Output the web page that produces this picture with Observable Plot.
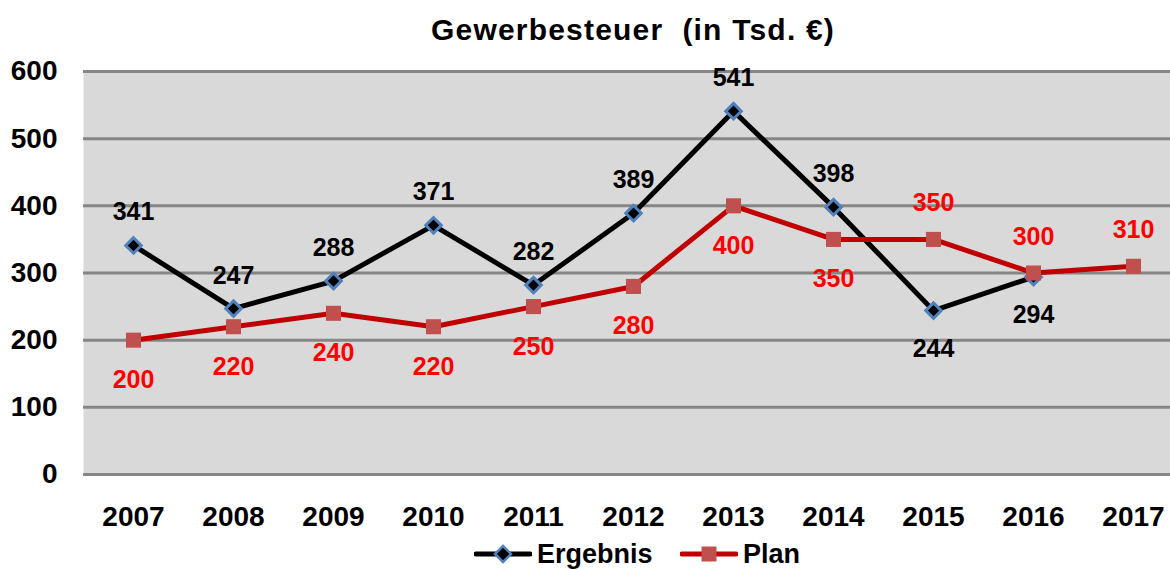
<!DOCTYPE html>
<html>
<head>
<meta charset="utf-8">
<script src="https://cdn.jsdelivr.net/npm/d3@7"></script>
<script src="https://cdn.jsdelivr.net/npm/@observablehq/plot@0.6"></script>
<style>
  html, body { margin: 0; padding: 0; background: #fff; }
  body { width: 1170px; height: 570px; overflow: hidden; font-family: "Liberation Sans", Arial, sans-serif; font-weight: bold; }
  #title { height: 58px; position: relative; }
  #title span { position: absolute; left: 633px; top: 13px; transform: translateX(-50%); font-size: 30px; letter-spacing: 1.2px; white-space: pre; color: #000; }
  #legend { height: 32px; position: relative; }
  .item { position: absolute; top: 0; height: 32px; display: flex; align-items: center; font-size: 27px; }
  .item svg { margin-right: 5px; }
</style>
</head>
<body>
<div id="title"><span>Gewerbesteuer  (in Tsd. €)</span></div>
<div id="chart"></div>
<div id="legend"></div>
<script>
const years = ["2007","2008","2009","2010","2011","2012","2013","2014","2015","2016","2017"];
const ergebnis = [341, 247, 288, 371, 282, 389, 541, 398, 244, 294, null];
const plan = [200, 220, 240, 220, 250, 280, 400, 350, 350, 300, 310];
const yTicks = [0, 100, 200, 300, 400, 500, 600];
const ergebnisLabelBelow = ["2015", "2016"];
const planLabelAbove = ["2015", "2016", "2017"];

const ergData = years.map((y, i) => ({year: y, value: ergebnis[i]})).filter(d => d.value != null);
const planData = years.map((y, i) => ({year: y, value: plan[i]}));

const fontFamily = '"Liberation Sans", Arial, sans-serif';
const chart = Plot.plot({
  width: 1170,
  height: 480,
  marginLeft: 83,
  marginRight: 0,
  marginTop: 13,
  marginBottom: 64,
  style: {fontFamily, fontWeight: "bold", background: "transparent", overflow: "visible"},
  x: {type: "point", domain: years, range: [133, 1133], padding: 0},
  y: {domain: [0, 600]},
  marks: [
    Plot.frame({fill: "#d9d9d9", stroke: null}),
    Plot.ruleY(yTicks, {stroke: "#868686", strokeWidth: 3}),
    Plot.axisY({ticks: yTicks, tickSize: 0, tickPadding: 26, fontSize: 28, label: null, fill: "#000"}),
    Plot.axisX({tickSize: 0, tickPadding: 32, fontSize: 28, label: null, fill: "#000"}),
    Plot.line(ergData, {x: "year", y: "value", stroke: "#000", strokeWidth: 5}),
    Plot.dot(ergData, {x: "year", y: "value", symbol: "diamond2", r: 7, fill: "#000", stroke: "#4f81bd", strokeWidth: 3}),
    Plot.line(planData, {x: "year", y: "value", stroke: "#c00000", strokeWidth: 5}),
    Plot.dot(planData, {x: "year", y: "value", symbol: "square", r: 8.5, fill: "#c0504d", stroke: null}),
    Plot.text(ergData.filter(d => !ergebnisLabelBelow.includes(d.year)), {x: "year", y: "value", text: d => String(d.value), dy: -33, fontSize: 25, fill: "#000"}),
    Plot.text(ergData.filter(d => ergebnisLabelBelow.includes(d.year)), {x: "year", y: "value", text: d => String(d.value), dy: 38, fontSize: 25, fill: "#000"}),
    Plot.text(planData.filter(d => !planLabelAbove.includes(d.year)), {x: "year", y: "value", text: d => String(d.value), dy: 40, fontSize: 25, fill: "#ff0000"}),
    Plot.text(planData.filter(d => planLabelAbove.includes(d.year)), {x: "year", y: "value", text: d => String(d.value), dy: -36, fontSize: 25, fill: "#ff0000"})
  ]
});
document.getElementById("chart").appendChild(chart);

// Legend
const legend = document.getElementById("legend");
function addItem(left, label, lineColor, kind) {
  const div = document.createElement("div");
  div.className = "item";
  div.style.left = left + "px";
  const ns = "http://www.w3.org/2000/svg";
  const svg = document.createElementNS(ns, "svg");
  svg.setAttribute("width", 58); svg.setAttribute("height", 30);
  const line = document.createElementNS(ns, "line");
  line.setAttribute("x1", 2); line.setAttribute("x2", 56); line.setAttribute("y1", 15); line.setAttribute("y2", 15);
  line.setAttribute("stroke", lineColor); line.setAttribute("stroke-width", 5); line.setAttribute("stroke-linecap", "round");
  svg.appendChild(line);
  if (kind === "diamond") {
    const p = document.createElementNS(ns, "path");
    p.setAttribute("d", "M29,7L37,15L29,23L21,15Z");
    p.setAttribute("fill", "#000"); p.setAttribute("stroke", "#4f81bd"); p.setAttribute("stroke-width", 2.5);
    svg.appendChild(p);
  } else {
    const r = document.createElementNS(ns, "rect");
    r.setAttribute("x", 21.5); r.setAttribute("y", 7.5); r.setAttribute("width", 15); r.setAttribute("height", 15);
    r.setAttribute("fill", "#c0504d");
    svg.appendChild(r);
  }
  div.appendChild(svg);
  const span = document.createElement("span");
  span.textContent = label;
  div.appendChild(span);
  legend.appendChild(div);
}
addItem(474, "Ergebnis", "#000", "diamond");
addItem(680, "Plan", "#c00000", "square");
</script>
</body>
</html>
